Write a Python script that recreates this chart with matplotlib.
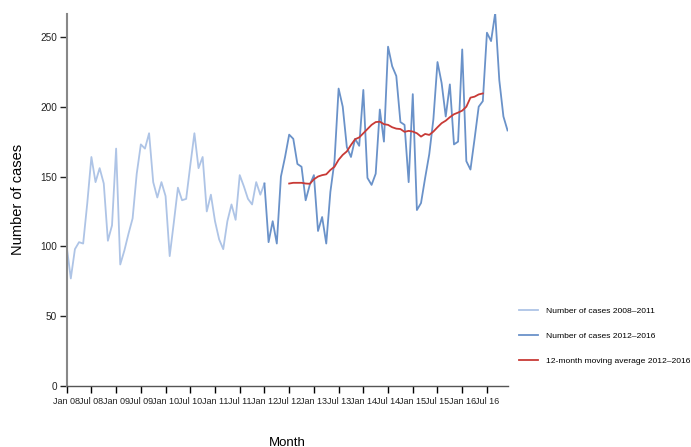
import matplotlib.pyplot as plt

plt.rcParams['font.family'] = ['Liberation Sans', 'DejaVu Sans']

# monthly case counts, Jan 2008 - Jan 2012 (light line, joins the dark one at Jan 2012)
cases_2008_2011 = [100, 77, 98, 103, 102, 131, 164, 146, 156, 145, 104, 115,
                   170, 87, 97, 109, 120, 152, 173, 170, 181, 146, 135, 146,
                   136, 93, 117, 142, 133, 134, 158, 181, 156, 164, 125, 137,
                   118, 105, 98, 118, 130, 119, 151, 143, 134, 130, 146, 137,
                   145]

# monthly case counts, Jan 2012 - Dec 2016
cases_2012_2016 = [145, 103, 118, 102, 150, 164, 180, 177, 159, 157, 133, 144,
                   151, 111, 121, 102, 139, 161, 213, 200, 171, 164, 177, 172,
                   212, 149, 144, 152, 198, 175, 243, 229, 222, 189, 187, 146,
                   209, 126, 131, 149, 166, 191, 232, 217, 193, 216, 173, 175,
                   241, 161, 155, 177, 200, 204, 253, 247, 267, 219, 193, 183]

# centred 12-month moving average, Jul 2012 - Jun 2016
moving_avg = [145, 145.5, 145.5, 145.5, 145, 144.8, 148, 150, 151, 151.6, 154.7, 157,
              162, 165.5, 168, 172.6, 176.7, 178, 181, 184, 187, 189, 189.3, 187.5,
              187, 185.3, 184.3, 184, 182, 182.7, 182.2, 181, 178.6, 180.5, 179.8, 182.2,
              185.3, 188.2, 190, 192.5, 194.6, 195.8, 197.2, 200, 206.5, 207.2, 208.8, 209.5]

tick_labels = ["Jan 08", "Jul 08", "Jan 09", "Jul 09", "Jan 10", "Jul 10", "Jan 11", "Jul 11",
               "Jan 12", "Jul 12", "Jan 13", "Jul 13", "Jan 14", "Jul 14", "Jan 15", "Jul 15",
               "Jan 16", "Jul 16"]

x_light = list(range(len(cases_2008_2011)))
x_dark = list(range(48, 48 + len(cases_2012_2016)))
x_ma = list(range(54, 54 + len(moving_avg)))

fig = plt.figure(figsize=(6.91, 4.47), dpi=100)
ax = fig.add_axes([0.0965, 0.1365, 0.638, 0.8325])

ax.plot(x_light, cases_2008_2011, color='#aec4e6', lw=1.3, label="Number of cases 2008\u20132011")
ax.plot(x_dark, cases_2012_2016, color='#6a92c9', lw=1.3, label="Number of cases 2012\u20132016")
ax.plot(x_ma, moving_avg, color='#c83a36', lw=1.3, label="12-month moving average 2012\u20132016")

ax.set_xlim(0, 107)
ax.set_ylim(0, 266.5)
ax.set_xticks(range(0, 107, 6))
ax.set_xticklabels(tick_labels, fontsize=6.5, color='#222222')
ax.set_yticks([0, 50, 100, 150, 200, 250])
ax.tick_params(axis='y', labelsize=7.2, colors='#222222', length=5, width=1, pad=2)
ax.tick_params(axis='x', length=5, width=1, pad=3)
for t in ax.get_xticklines() + ax.get_yticklines():
    t.set_color('#555555')

for s in ['top', 'right']:
    ax.spines[s].set_visible(False)
ax.spines['left'].set_color('#888888')
ax.spines['left'].set_linewidth(1.5)
ax.spines['bottom'].set_color('#555555')
ax.spines['bottom'].set_linewidth(1)

ax.set_ylabel("Number of cases", fontsize=10.5, labelpad=11)
ax.set_xlabel("Month", fontsize=9.5, labelpad=22)

ax.legend(loc='center left', bbox_to_anchor=(1.008, 0.135), frameon=False, fontsize=6.1,
          handlelength=2.3, handletextpad=0.9, labelspacing=2.0)

plt.savefig("out.png", dpi=100)
